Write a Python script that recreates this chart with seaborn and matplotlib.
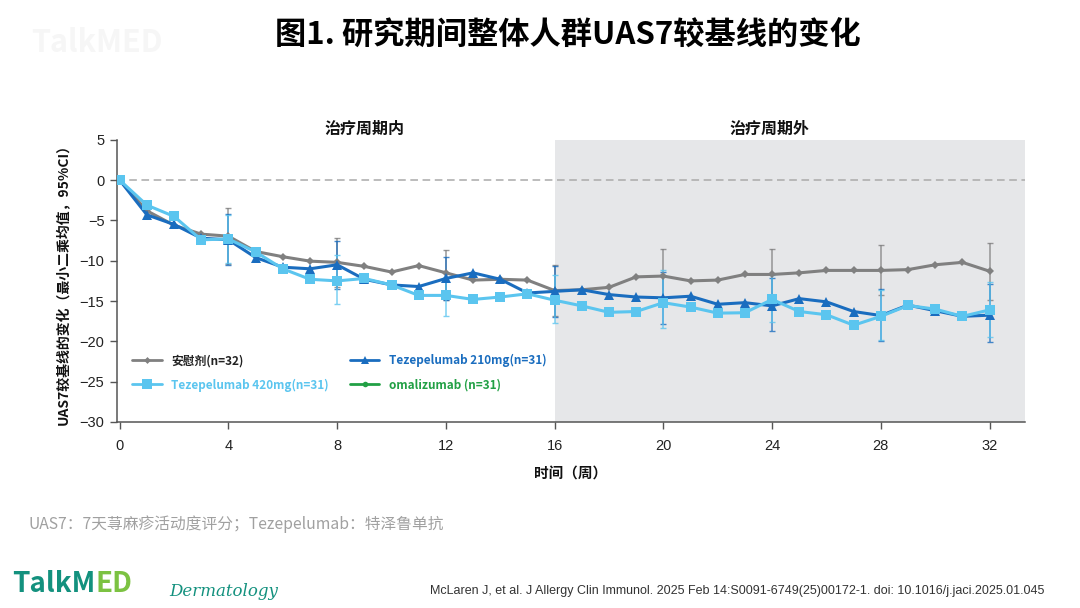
import numpy as np
import pandas as pd
import matplotlib
matplotlib.use("Agg")
import matplotlib.pyplot as plt
import seaborn as sns

# ---------------- data ----------------
weeks = list(range(0, 33))
placebo = [0, -3.8, -5.6, -6.7, -6.95, -8.85, -9.5, -10.05, -10.2, -10.7, -11.4, -10.6,
           -11.5, -12.4, -12.3, -12.4, -13.7, -13.6, -13.3, -12.0, -11.9, -12.5, -12.4,
           -11.7, -11.7, -11.5, -11.2, -11.2, -11.2, -11.1, -10.5, -10.2, -11.3]
teze210 = [0, -4.3, -5.5, -7.2, -7.4, -9.6, -10.8, -11.0, -10.5, -12.3, -13.0, -13.2,
           -12.2, -11.5, -12.3, -14.0, -13.8, -13.6, -14.2, -14.5, -14.6, -14.4, -15.4,
           -15.2, -15.6, -14.7, -15.1, -16.3, -16.8, -15.5, -16.2, -16.9, -16.75]
teze420 = [0, -3.1, -4.5, -7.4, -7.3, -8.9, -11.0, -12.3, -12.5, -12.2, -13.0, -14.3,
           -14.3, -14.8, -14.5, -14.1, -14.9, -15.6, -16.4, -16.3, -15.2, -15.75, -16.5,
           -16.45, -14.8, -16.3, -16.7, -18.0, -16.9, -15.55, -16.0, -16.9, -16.1]

ci_weeks = [4, 8, 12, 16, 20, 24, 28, 32]
placebo_hi = [-3.5, -7.2, -8.7, -10.5, -8.5, -8.5, -8.0, -7.8]
placebo_lo = [-10.4, -13.2, -14.9, -16.8, -15.3, -14.9, -14.3, -14.9]
teze210_hi = [-4.2, -7.5, -9.5, -10.6, -11.4, -12.2, -13.5, -12.9]
teze210_lo = [-10.5, -13.5, -14.9, -17.0, -17.8, -18.7, -19.9, -20.1]
teze420_hi = [-4.3, -9.3, -12.0, -11.8, -11.2, -11.8, -13.6, -12.65]
teze420_lo = [-10.3, -15.4, -16.8, -17.7, -18.3, -17.6, -19.8, -19.4]

groups = ["安慰剂(n=32)", "Tezepelumab 210mg(n=31)", "Tezepelumab 420mg(n=31)", "omalizumab (n=31)"]
colors = ["#808080", "#1a6dbf", "#5bc5ef", "#22a045"]
marker_list = ["D", "^", "s", "o"]
msizes = [4.5, 6.5, 7.5, 5]

y_ticks = [5, 0, -5, -10, -15, -20, -25, -30]
x_ticks = [0, 4, 8, 12, 16, 20, 24, 28, 32]

title = "图1. 研究期间整体人群UAS7较基线的变化"
ylabel = "UAS7较基线的变化（最小二乘均值，95%CI）"
xlabel = "时间（周）"
sec1 = "治疗周期内"
sec2 = "治疗周期外"
footnote = "UAS7：7天荨麻疹活动度评分；Tezepelumab：特泽鲁单抗"
citation = "McLaren J, et al. J Allergy Clin Immunol. 2025 Feb 14:S0091-6749(25)00172-1. doi: 10.1016/j.jaci.2025.01.045"

# ---------------- build table ----------------
series = [placebo, teze210, teze420]
rows = []
for g, vals in zip(groups[:3], series):
    for w, v in zip(weeks, vals):
        rows.append({"week": w, "value": v, "group": g})
df = pd.DataFrame(rows)

sns.set_theme(style="white")
plt.rcParams["font.family"] = ["Noto Sans CJK SC", "DejaVu Sans"]

fig = plt.figure(figsize=(10.8, 6.08), dpi=100)
ax = fig.add_axes([0.1083, 0.306, 0.8407, 0.464])

ax.axvspan(16, 33.3, color="#e6e7e9", zorder=0, lw=0)
ax.axhline(0, color="#aaaaaa", lw=1.1, ls=(0, (5, 3)), zorder=1)

# error bars
cis = [(placebo_hi, placebo_lo), (teze210_hi, teze210_lo), (teze420_hi, teze420_lo)]
for (hi, lo), col, order in zip(cis, colors[:3], [2, 3, 4]):
    for w, h, l in zip(ci_weeks, hi, lo):
        ax.errorbar([w], [(h + l) / 2], yerr=[[(h - l) / 2], [(h - l) / 2]], fmt="none",
                    ecolor=col, elinewidth=1.1, capsize=2.5, capthick=1.0, alpha=0.8, zorder=order)

sns.lineplot(data=df, x="week", y="value", hue="group", style="group",
             hue_order=groups[:3], style_order=groups[:3],
             palette=dict(zip(groups[:3], colors[:3])),
             markers=dict(zip(groups[:3], marker_list[:3])), dashes=False,
             linewidth=2.2, markersize=6, markeredgewidth=0, legend=False, ax=ax, zorder=5)
for line, ms in zip(ax.get_lines()[-3:], msizes[:3]):
    line.set_markersize(ms)

ax.set_xlim(-0.1, 33.3)
ax.set_ylim(-30, 5)
ax.set_xticks(x_ticks)
ax.set_yticks(y_ticks)
for lbl in ax.get_xticklabels() + ax.get_yticklabels():
    lbl.set_family(["Liberation Sans", "DejaVu Sans"])
    lbl.set_fontsize(10.5)
    lbl.set_color("#222222")
ax.tick_params(axis="both", which="both", direction="out", length=5, width=1, color="#555555",
               bottom=True, left=True)
ax.tick_params(axis="x", pad=7)
ax.tick_params(axis="y", pad=4)
for s in ["top", "right"]:
    ax.spines[s].set_visible(False)
for s in ["left", "bottom"]:
    ax.spines[s].set_color("#555555")
    ax.spines[s].set_linewidth(1.1)

ax.set_xlabel(xlabel, fontsize=10.5, fontweight="bold", labelpad=9, color="#111111")
ax.set_ylabel(ylabel, fontsize=10, fontweight="bold", labelpad=6, color="#111111")

# legend
handles = []
for g, c, m, ms in zip(groups, colors, marker_list, msizes):
    h, = ax.plot([], [], color=c, marker=m, markersize=ms - 1, lw=2, markeredgewidth=0, label=g)
    handles.append(h)
order = [0, 2, 1, 3]
leg = ax.legend([handles[i] for i in order], [groups[i] for i in order], ncol=2,
                loc="lower left", bbox_to_anchor=(0.005, 0.07), frameon=False,
                prop={"size": 8.5, "weight": "bold"}, handlelength=2.5,
                columnspacing=1.8, labelspacing=0.95, handletextpad=0.8)
for txt, i in zip(leg.get_texts(), order):
    txt.set_color("#222222" if i == 0 else colors[i])

# section labels
ax.text(9.0, 6.3, sec1, fontsize=11.5, fontweight="bold", ha="center", va="center", color="#111111")
ax.text(23.9, 6.3, sec2, fontsize=11.5, fontweight="bold", ha="center", va="center", color="#111111")

# title and footers
fig.text(0.526, 0.942, title, fontsize=22.5, fontweight="bold", ha="center", va="center", color="#000000")
fig.text(0.09, 0.93, "TalkMED", fontsize=22, fontweight="bold", ha="center", va="center", color="#f6f6f6")
fig.text(0.026, 0.138, footnote, fontsize=11.3, ha="left", va="center", color="#a0a0a0")
t1 = fig.text(0.011, 0.04, "TalkM", fontsize=20, fontweight="bold", ha="left", va="center", color="#13917e")
fig.canvas.draw()
bb = t1.get_window_extent()
fig.text(bb.x1 / fig.bbox.width, 0.04, "ED", fontsize=20, fontweight="bold", ha="left", va="center",
         color="#7cc242")
fig.text(0.157, 0.027, "Dermatology", fontsize=12, style="italic", ha="left", va="center",
         color="#13917e", family=["DejaVu Serif"])
fig.text(0.967, 0.028, citation, fontsize=9.0, ha="right", va="center", color="#333333",
         family=["Liberation Sans Narrow", "Liberation Sans", "DejaVu Sans"])

fig.savefig("out.png", dpi=100, facecolor="white")
